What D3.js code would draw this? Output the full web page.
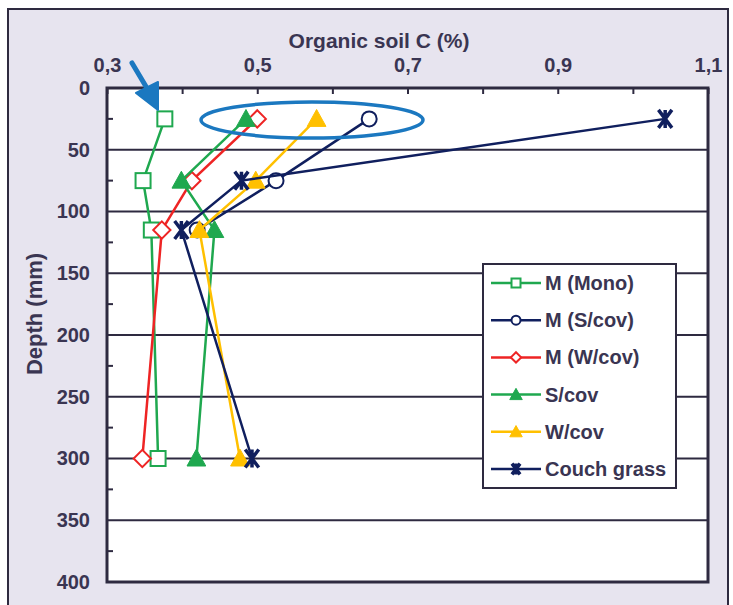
<!DOCTYPE html>
<html><head><meta charset="utf-8">
<script src="https://cdn.jsdelivr.net/npm/d3@7"></script>
<style>
html,body{margin:0;padding:0;background:#fff;}
svg{display:block;font-family:"Liberation Sans",Arial,sans-serif;}
</style></head>
<body>
<svg id="c" width="733" height="605"></svg>
<script>
const depths = [25, 75, 115, 300];
const seriesNames = ["M (Mono)", "M (S/cov)", "M (W/cov)", "S/cov", "W/cov", "Couch grass"];
const monoValues = [0.377, 0.348, 0.359, 0.368];
const mScovValues = [0.649, 0.525, 0.42, null];
const mWcovValues = [0.50, 0.413, 0.373, 0.347];
const scovValues = [0.485, 0.399, 0.443, 0.419];
const wcovValues = [0.579, 0.498, 0.423, 0.477];
const couchValues = [1.043, 0.479, 0.399, 0.493];
const xTickLabels = [0.3, 0.5, 0.7, 0.9, 1.1];
const xTickMarks = [0.3, 0.4, 0.5, 0.6, 0.7, 0.8, 0.9, 1.0, 1.1];
const yTickLabels = [0, 50, 100, 150, 200, 250, 300, 350, 400];
const yMinorTicks = [25, 75, 125, 175, 225, 275, 325, 375];

const allSeries = [
  {name: seriesNames[0], values: monoValues, color: "#1fa84f", marker: "square"},
  {name: seriesNames[1], values: mScovValues, color: "#101f5e", marker: "circle"},
  {name: seriesNames[2], values: mWcovValues, color: "#ee2424", marker: "diamond"},
  {name: seriesNames[3], values: scovValues, color: "#1fa84f", marker: "triangle"},
  {name: seriesNames[4], values: wcovValues, color: "#ffc000", marker: "triangle"},
  {name: seriesNames[5], values: couchValues, color: "#101f5e", marker: "star"}
];

const svg = d3.select("#c");
const textCol = "#3a3552";
const frameCol = "#2e2a40";
const font = "'Liberation Sans',Arial,sans-serif";

svg.append("rect").attr("x",0).attr("y",0).attr("width",733).attr("height",605).attr("fill","#ffffff");
svg.append("rect").attr("x",8).attr("y",9).attr("width",720).attr("height",610)
  .attr("fill","#e7e4ef").attr("stroke",frameCol).attr("stroke-width",2);

const L = 107, R = 708, T = 88, B = 582;
const x = d3.scaleLinear().domain([0.3, 1.1]).range([L, R]);
const y = d3.scaleLinear().domain([0, 400]).range([T, B]);

svg.append("rect").attr("x",L).attr("y",T).attr("width",R-L).attr("height",B-T).attr("fill","#fff");

svg.append("g").selectAll("line").data(yTickLabels.filter(d=>d>0 && d<400)).join("line")
  .attr("x1",L).attr("x2",R).attr("y1",d=>y(d)).attr("y2",d=>y(d))
  .attr("stroke",frameCol).attr("stroke-width",2);

const xAxis = d3.axisTop(x).tickValues(xTickMarks).tickSize(-6).tickPadding(16)
  .tickFormat(d => xTickLabels.some(v=>Math.abs(v-d)<1e-9) ? d3.format(".1f")(d).replace(".", ",") : "");
const gx = svg.append("g").attr("transform",`translate(0,${T})`).call(xAxis);
gx.select(".domain").remove();
gx.selectAll("line").attr("stroke",frameCol).attr("stroke-width",2);
gx.selectAll("text").attr("fill",textCol).attr("font-size",20).attr("font-weight","bold")
  .attr("font-family",font);

const yAxis = d3.axisLeft(y).tickValues(yTickLabels).tickSize(0).tickPadding(17).tickFormat(d3.format("d"));
const gy = svg.append("g").attr("transform",`translate(${L},0)`).call(yAxis);
gy.select(".domain").remove();
gy.selectAll("text").attr("fill",textCol).attr("font-size",20).attr("font-weight","bold")
  .attr("font-family",font);
svg.append("g").selectAll("line").data(yMinorTicks).join("line")
  .attr("x1",L).attr("x2",L+6).attr("y1",d=>y(d)).attr("y2",d=>y(d))
  .attr("stroke",frameCol).attr("stroke-width",2);

svg.append("rect").attr("x",L).attr("y",T).attr("width",R-L).attr("height",B-T)
  .attr("fill","none").attr("stroke",frameCol).attr("stroke-width",3);

svg.append("text").attr("x",379).attr("y",48).attr("text-anchor","middle")
  .attr("fill",textCol).attr("font-size",21).attr("font-weight","bold").text("Organic soil C (%)");
svg.append("text").attr("transform","translate(42,314) rotate(-90)").attr("text-anchor","middle")
  .attr("fill",textCol).attr("font-size",22).attr("font-weight","bold").text("Depth (mm)");

function drawMarker(g, type, color, cx, cy, s) {
  if (type === "square") {
    g.append("rect").attr("x",cx-s).attr("y",cy-s).attr("width",2*s).attr("height",2*s)
      .attr("fill","#fff").attr("stroke",color).attr("stroke-width",2);
  } else if (type === "circle") {
    g.append("circle").attr("cx",cx).attr("cy",cy).attr("r",s)
      .attr("fill","#fff").attr("stroke",color).attr("stroke-width",2);
  } else if (type === "diamond") {
    const d = s*1.15;
    g.append("path").attr("d",`M${cx},${cy-d}L${cx+d},${cy}L${cx},${cy+d}L${cx-d},${cy}Z`)
      .attr("fill","#fff").attr("stroke",color).attr("stroke-width",2);
  } else if (type === "triangle") {
    const h = s*1.25;
    g.append("path").attr("d",`M${cx},${cy-h}L${cx+h},${cy+h*0.8}L${cx-h},${cy+h*0.8}Z`)
      .attr("fill",color).attr("stroke",color).attr("stroke-width",1);
  } else if (type === "star") {
    const k = s*1.2;
    g.append("path").attr("d",`M${cx-k*0.75},${cy-k}L${cx+k*0.75},${cy+k}M${cx+k*0.75},${cy-k}L${cx-k*0.75},${cy+k}M${cx},${cy-k}L${cx},${cy+k}`)
      .attr("fill","none").attr("stroke",color).attr("stroke-width",3.5);
  }
}

const line = d3.line().defined(d => d.v !== null).x(d => x(d.v)).y(d => y(d.depth));
allSeries.forEach(s => {
  const pts = s.values.map((v,i)=>({v, depth: depths[i]}));
  const g = svg.append("g");
  g.append("path").datum(pts).attr("d",line).attr("fill","none")
    .attr("stroke",s.color).attr("stroke-width",2.5);
  pts.filter(p=>p.v!==null).forEach(p => drawMarker(g, s.marker, s.color, x(p.v), y(p.depth), 7.5));
});

svg.append("ellipse").attr("cx",312).attr("cy",120).attr("rx",111).attr("ry",18)
  .attr("fill","none").attr("stroke","#1b78c0").attr("stroke-width",3.5);
svg.append("path").attr("d","M132,63L154,100").attr("stroke","#1b78c0").attr("stroke-width",5)
  .attr("stroke-linecap","round").attr("fill","none");
svg.append("path").attr("d","M136,93L158,110L158,82Z").attr("fill","#1b78c0")
  .attr("stroke","#1b78c0").attr("stroke-width",2).attr("stroke-linejoin","round");

const lg = svg.append("g");
lg.append("rect").attr("x",483).attr("y",264).attr("width",193).attr("height",224)
  .attr("fill","#fff").attr("stroke",frameCol).attr("stroke-width",2);
allSeries.forEach((s,i) => {
  const ly = 283 + i*37.2;
  lg.append("line").attr("x1",491).attr("x2",541).attr("y1",ly).attr("y2",ly)
    .attr("stroke",s.color).attr("stroke-width",2.5);
  drawMarker(lg, s.marker, s.color, 516, ly, s.marker==="triangle" ? 5 : 4.5);
  lg.append("text").attr("x",545).attr("y",ly+7).attr("fill",textCol)
    .attr("font-size",20).attr("font-weight","bold").text(s.name);
});
</script>
</body></html>
